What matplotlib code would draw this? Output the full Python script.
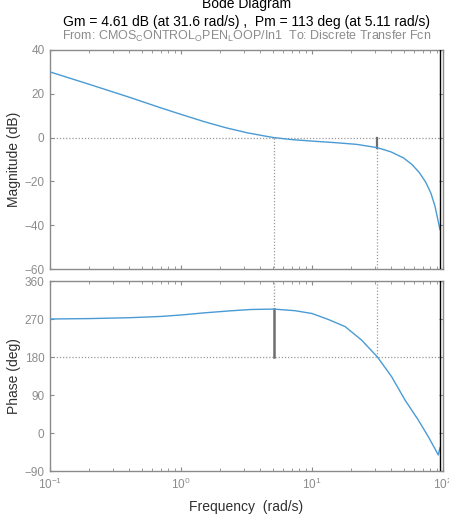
import numpy as np
import matplotlib
matplotlib.use("Agg")
import matplotlib.pyplot as plt
from matplotlib.ticker import LogLocator, FixedLocator

plt.rcParams['font.family'] = ['Liberation Sans', 'DejaVu Sans']
plt.rcParams['mathtext.fontset'] = 'custom'
plt.rcParams['mathtext.rm'] = 'Liberation Sans'
plt.rcParams['mathtext.it'] = 'Liberation Sans:italic'

# ---- data ----
mag_freq = [0.1, 0.2, 0.4, 0.7, 1.0, 1.5, 2.2, 3.2, 4.2, 5.11, 7.0, 10.0,
            15.0, 22.0, 31.6, 40.0, 50.0, 58.0, 66.0, 74.0, 81.0, 87.0, 91.0, 94.8]
mag_db = [30.0, 24.3, 18.5, 13.6, 10.6, 7.3, 4.5, 2.2, 0.9, 0.0, -0.9, -1.6,
          -2.3, -3.1, -4.61, -6.5, -9.3, -12.3, -16.0, -20.5, -25.5, -31.5, -37.0, -42.0]

ph_freq = [0.1, 0.2, 0.4, 0.7, 1.0, 1.5, 2.3, 3.4, 5.11, 7.4, 10.0,
           13.3, 17.9, 23.9, 31.6, 40.6, 51.3, 64.7, 77.3, 86.0, 92.0, 94.8]
ph_deg = [270, 271, 273, 276, 279.5, 284.5, 289, 292.5, 293.5, 289.7, 283,
          269, 252, 220, 180, 133, 78, 31, -9, -35, -52, -35]

gm_db = 4.61
gm_freq = 31.6
pm_deg = 113
pm_freq = 5.11
nyquist = 94.8

mag_ticks = [-60, -40, -20, 0, 20, 40]
ph_ticks = [-90, 0, 90, 180, 270, 360]
xlim = (0.1, 100)

title = "Bode Diagram"
subtitle = "Gm = 4.61 dB (at 31.6 rad/s) ,  Pm = 113 deg (at 5.11 rad/s)"
fromto = r"From: CMOS$_{\rm C}$ONTROL$_{\rm O}$PEN$_{\rm L}$OOP/In1  To: Discrete Transfer Fcn"

# ---- figure ----
W, H = 449, 526
fig = plt.figure(figsize=(W / 100, H / 100), dpi=100)

def frac(x0, y0, x1, y1):
    return [x0 / W, 1 - y1 / H, (x1 - x0) / W, (y1 - y0) / H]

ax1 = fig.add_axes(frac(50, 50, 443, 269))
ax2 = fig.add_axes(frac(50, 281, 443, 471))

line_c = '#4a9bd4'
grid_c = '#9a9a9a'
tick_c = '#8c8c8c'
spine_c = '#8a8a8a'
marg_c = '#6e6e6e'
lab_c = '#303030'

for ax in (ax1, ax2):
    ax.set_xscale('log')
    ax.set_xlim(*xlim)
    for s in ax.spines.values():
        s.set_color(spine_c)
        s.set_linewidth(1.0)
    ax.tick_params(which='both', direction='in', top=True, right=True,
                   colors=spine_c, labelcolor=tick_c, labelsize=8.5)
    ax.tick_params(which='major', length=3, pad=4)
    ax.tick_params(which='minor', length=2)
    ax.xaxis.set_major_locator(LogLocator(base=10, numticks=10))
    ax.xaxis.set_minor_locator(LogLocator(base=10, subs=np.arange(2, 10), numticks=10))
    ax.axvline(nyquist, color='black', lw=1.0, zorder=4)

dot = (0, (1, 1.5))

# magnitude
ax1.set_ylim(-60, 40)
ax1.yaxis.set_major_locator(FixedLocator(mag_ticks))
ax1.axhline(0, color=grid_c, ls=dot, lw=0.9, zorder=1)
ax1.plot([pm_freq, pm_freq], [0, -60], color=grid_c, ls=dot, lw=0.9, zorder=1)
ax1.plot([gm_freq, gm_freq], [-gm_db, -60], color=grid_c, ls=dot, lw=0.9, zorder=1)
ax1.plot([gm_freq, gm_freq], [0, -gm_db], color=marg_c, lw=1.6, zorder=2)
ax1.plot(mag_freq, mag_db, color=line_c, lw=1.0, zorder=3)
ax1.tick_params(labelbottom=False)
ax1.set_ylabel("Magnitude (dB)", fontsize=10, color=lab_c)
ax1.yaxis.set_label_coords(-(50 - 21) / 393, 0.5)

# phase
ax2.set_ylim(-90, 360)
ax2.yaxis.set_major_locator(FixedLocator(ph_ticks))
ax2.axhline(180, color=grid_c, ls=dot, lw=0.9, zorder=1)
ax2.plot([pm_freq, pm_freq], [180 + pm_deg, 360], color=grid_c, ls=dot, lw=0.9, zorder=1)
ax2.plot([gm_freq, gm_freq], [180, 360], color=grid_c, ls=dot, lw=0.9, zorder=1)
ax2.plot([pm_freq, pm_freq], [180, 180 + pm_deg], color=marg_c, lw=1.8, zorder=2)
ax2.plot(ph_freq, ph_deg, color=line_c, lw=1.0, zorder=3)
ax2.set_ylabel("Phase (deg)", fontsize=10, color=lab_c)
ax2.yaxis.set_label_coords(-(50 - 21) / 393, 0.5)
ax2.set_xlabel("Frequency  (rad/s)", fontsize=10, color=lab_c)
ax2.xaxis.set_label_coords(0.5, -(500 - 471) / 190)

# titles
cx = (50 + 443) / 2 / W
fig.text(cx, 1 - 4 / H, title, ha='center', va='center', fontsize=10, color='black')
fig.text(cx, 1 - 22 / H, subtitle, ha='center', va='center', fontsize=10, color='black')
fig.text(cx, 1 - 36 / H, fromto, ha='center', va='center', fontsize=9, color='#8c8c8c')

fig.savefig("out.png", dpi=100)
